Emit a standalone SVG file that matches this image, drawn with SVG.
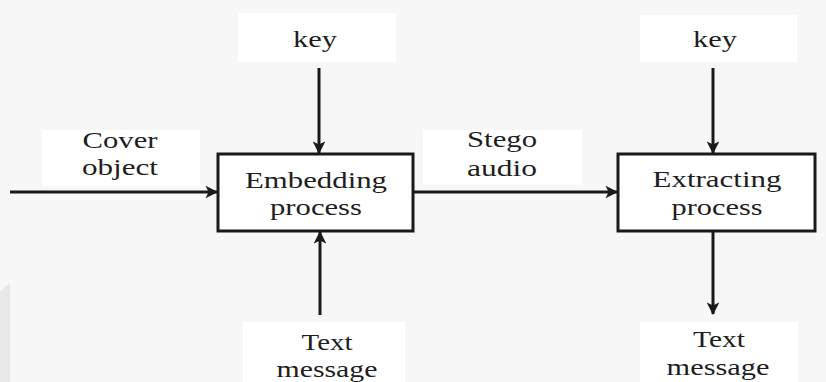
<svg xmlns="http://www.w3.org/2000/svg" width="826" height="382" viewBox="0 0 826 382">
  <style>
    .lbl { fill: #ffffff; }
    .box { fill: #ffffff; stroke: #1a1a1a; stroke-width: 3; }
    .t { font-family: 'Liberation Serif', Tinos, 'Times New Roman', Times, serif; font-size: 23px; fill: #1e1e1e; text-anchor: middle; }
    .wire { stroke: #1a1a1a; stroke-width: 3; fill: none; marker-end: url(#head); }
  </style>
  <defs>
    <marker id="head" viewBox="0 0 12 12" refX="11" refY="6" markerWidth="4.2" markerHeight="4.2" orient="auto" markerUnits="strokeWidth">
      <path d="M0,0 L12,6 L0,12 L3,6 Z" fill="#1a1a1a"/>
    </marker>
  </defs>

  <rect x="0" y="0" width="826" height="382" fill="#f7f7f7"/>
  <path d="M0,292 L10,283 L10,382 L0,382 Z" fill="#e8e8e8"/>

  <g id="connectors">
    <line class="wire" x1="10" y1="192" x2="217" y2="192"/>
    <line class="wire" x1="319" y1="68" x2="319" y2="153"/>
    <line class="wire" x1="320" y1="315" x2="320" y2="232"/>
    <line class="wire" x1="414" y1="192" x2="617" y2="192"/>
    <line class="wire" x1="713" y1="68" x2="713" y2="153"/>
    <line class="wire" x1="713" y1="231" x2="713" y2="314"/>
  </g>

  <g id="key-embed">
    <rect class="lbl" x="238" y="13" width="158" height="49"/>
    <text class="t" x="315" y="47" textLength="44" lengthAdjust="spacingAndGlyphs">key</text>
  </g>

  <g id="cover-object">
    <rect class="lbl" x="42" y="130" width="158" height="56"/>
    <text class="t" x="120" y="148" textLength="75" lengthAdjust="spacingAndGlyphs">Cover</text>
    <text class="t" x="120" y="175" textLength="76" lengthAdjust="spacingAndGlyphs">object</text>
  </g>

  <g id="embedding">
    <rect class="box" x="218" y="154" width="195" height="77"/>
    <text class="t" x="316" y="188" textLength="142" lengthAdjust="spacingAndGlyphs">Embedding</text>
    <text class="t" x="316" y="215" textLength="92" lengthAdjust="spacingAndGlyphs">process</text>
  </g>

  <g id="text-message-in">
    <rect class="lbl" x="243" y="322" width="162" height="60"/>
    <text class="t" x="327" y="350" textLength="51" lengthAdjust="spacingAndGlyphs">Text</text>
    <text class="t" x="327" y="377" textLength="101" lengthAdjust="spacingAndGlyphs">message</text>
  </g>

  <g id="stego-audio">
    <rect class="lbl" x="423" y="130" width="159" height="55"/>
    <text class="t" x="502" y="147" textLength="70" lengthAdjust="spacingAndGlyphs">Stego</text>
    <text class="t" x="502" y="176" textLength="70" lengthAdjust="spacingAndGlyphs">audio</text>
  </g>

  <g id="key-extract">
    <rect class="lbl" x="640" y="15" width="157" height="47"/>
    <text class="t" x="715" y="47" textLength="44" lengthAdjust="spacingAndGlyphs">key</text>
  </g>

  <g id="extracting">
    <rect class="box" x="618" y="154" width="197" height="77"/>
    <text class="t" x="717" y="187" textLength="129" lengthAdjust="spacingAndGlyphs">Extracting</text>
    <text class="t" x="717" y="215" textLength="91" lengthAdjust="spacingAndGlyphs">process</text>
  </g>

  <g id="text-message-out">
    <rect class="lbl" x="640" y="322" width="158" height="60"/>
    <text class="t" x="719" y="347" textLength="52" lengthAdjust="spacingAndGlyphs">Text</text>
    <text class="t" x="718" y="375" textLength="103" lengthAdjust="spacingAndGlyphs">message</text>
  </g>
</svg>
